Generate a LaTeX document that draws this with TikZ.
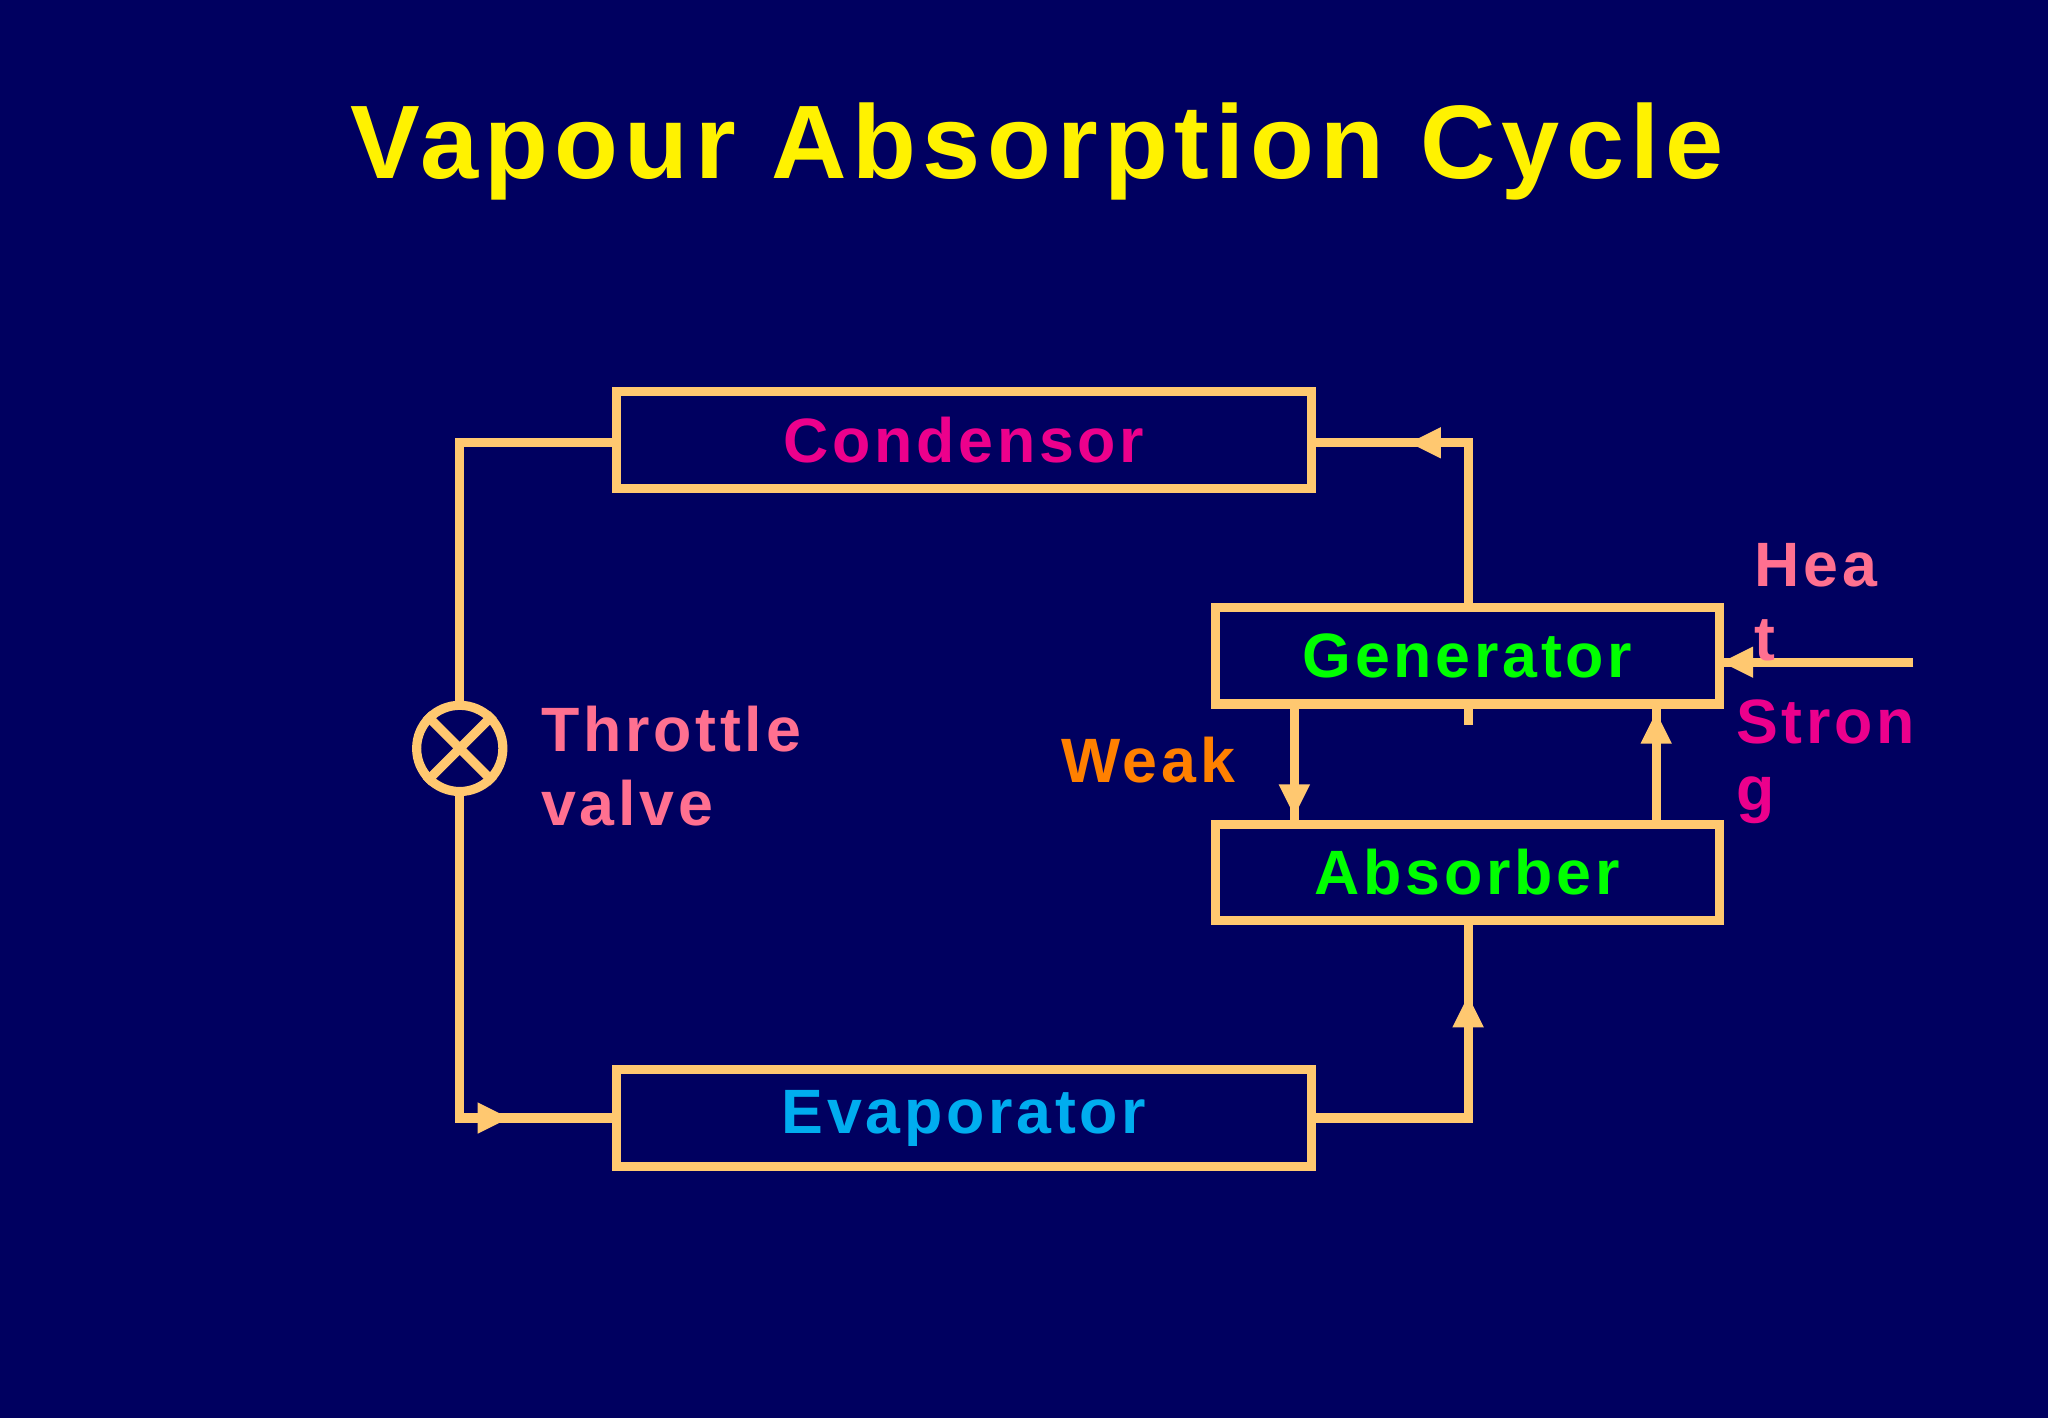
\documentclass[tikz,border=0pt]{standalone}
\usepackage{fontspec}
\setmainfont{Liberation Sans}[LetterSpace=6]
\usetikzlibrary{arrows.meta,decorations.markings}
\definecolor{bg}{HTML}{000060}
\definecolor{ln}{HTML}{FFC870}
\definecolor{pk}{HTML}{FF7090}
\begin{document}
\begin{tikzpicture}[x=0.5pt,y=-0.5pt,
 box/.style={draw=ln,line width=3.5pt,minimum width=266pt,minimum height=37pt,inner sep=0pt,font=\fontsize{24}{26}\selectfont\bfseries},
 sbox/.style={box,minimum width=193pt},
 pipe/.style={draw=ln,line width=3.5pt},
 lbl/.style={font=\fontsize{24}{30}\selectfont\bfseries,anchor=west,inner sep=0pt},
 mid/.style={postaction={decorate},decoration={markings,mark=at position #1 with {\fill[ln] (6pt,0)--(-6pt,6pt)--(-6pt,-6pt)--cycle;}}}]
\fill[bg] (0,0) rectangle (1568,1086);
\useasboundingbox (0,0) rectangle (1568,1086);
\node[text=yellow,font=\fontsize{40}{44}\selectfont\bfseries] (title) at (794,116) {Vapour Absorption Cycle};
\node[box,text=magenta] (cond) at (738,337) {Condensor};
\node[sbox,text=green] (gen) at (1123.5,502) {Generator};
\node[sbox,text=green] (abs) at (1123.5,668) {Absorber};
\node[box,text=cyan] (evap) at (738,856) {Evaporator};
\node[circle,draw=ln,line width=3.5pt,minimum size=33pt,inner sep=0pt] (valve) at (352,573) {};
\draw[ln,line width=3.5pt] (valve.north west)--(valve.south east) (valve.north east)--(valve.south west);
\coordinate (c1) at (352,339);
\coordinate (c2) at (352,856);
\coordinate (c3) at (1124,856);
\coordinate (c4) at (1124,339);
\coordinate (ht) at (1465,507);
\draw[pipe] (cond.west |- c1) -- (c1) -- (valve.north);
\draw[pipe,mid=0.75] (valve.south) -- (c2) -- (evap.west |- c2);
\draw[pipe,mid=0.75] (evap.east |- c3) -- (c3) -- (c3 |- abs.south);
\draw[pipe,mid=0.65] (c4 |- gen.north) -- (c4) -- (cond.east |- c4);
\draw[pipe,mid=0.8] (991,539) -- (991,631);
\draw[pipe,mid=0.8] (1268,631) -- (1268,539);
\draw[pipe,mid=0.93] (ht) -- (gen.east |- ht);
\draw[ln,line width=3.5pt] (1124,539) -- (1124,555);
\node[lbl,text=pk] (thr) at (414,558) {Throttle};
\node[lbl,text=pk] (val) at (414,615) {valve};
\node[lbl,text=orange] (weak) at (812,582) {Weak};
\node[lbl,text=pk] (hea) at (1343,433) {Hea};
\node[lbl,text=pk] (t) at (1343,490) {t};
\node[lbl,text=magenta] (str) at (1329,553) {Stron};
\node[lbl,text=magenta] (g) at (1329,613) {g};
\end{tikzpicture}
\end{document}
